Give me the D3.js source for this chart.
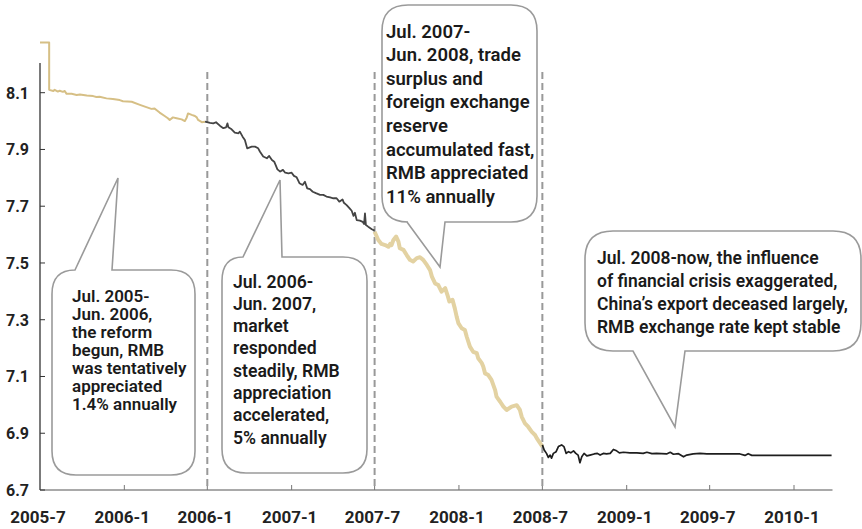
<!DOCTYPE html>
<html>
<head>
<meta charset="utf-8">
<script src="https://cdn.jsdelivr.net/npm/d3@7"></script>
<style>
  body { margin: 0; background: #fff; }
  svg { display: block; font-family: Roboto, "Noto Sans", sans-serif; }
</style>
</head>
<body>
<svg id="chart" width="862" height="529"></svg>
<script>
// RMB/USD rate, split by the four periods
const period1 = [
  ["2005-07-01", 8.2765], ["2005-07-21", 8.2765], ["2005-07-21", 8.110], ["2005-07-30", 8.106],
  ["2005-08-02", 8.110], ["2005-08-09", 8.104], ["2005-08-13", 8.107], ["2005-08-20", 8.103],
  ["2005-08-24", 8.106], ["2005-08-28", 8.096], ["2005-09-08", 8.096], ["2005-09-19", 8.092],
  ["2005-09-26", 8.094], ["2005-10-11", 8.090], ["2005-10-25", 8.088], ["2005-11-01", 8.085],
  ["2005-11-08", 8.086], ["2005-11-23", 8.080], ["2005-12-07", 8.078], ["2005-12-22", 8.074],
  ["2005-12-29", 8.070], ["2006-01-17", 8.068], ["2006-02-04", 8.057], ["2006-02-18", 8.049],
  ["2006-03-01", 8.043], ["2006-03-08", 8.044], ["2006-03-12", 8.039], ["2006-03-19", 8.030],
  ["2006-03-30", 8.018], ["2006-04-06", 8.010], ["2006-04-10", 8.004], ["2006-04-17", 8.013],
  ["2006-04-25", 8.010], ["2006-05-06", 8.006], ["2006-05-13", 8.000], ["2006-05-17", 8.012],
  ["2006-05-20", 8.027], ["2006-05-28", 8.022], ["2006-06-04", 8.018], ["2006-06-08", 8.013],
  ["2006-06-11", 8.004], ["2006-06-19", 7.996], ["2006-06-26", 7.998]
];
const period2 = [
  ["2006-06-26", 7.998], ["2006-07-07", 7.994], ["2006-07-14", 7.992], ["2006-07-20", 7.996],
  ["2006-07-29", 7.983], ["2006-08-05", 7.975], ["2006-08-11", 7.978], ["2006-08-14", 7.992],
  ["2006-08-16", 7.978], ["2006-08-23", 7.971], ["2006-08-30", 7.959], ["2006-09-07", 7.957],
  ["2006-09-10", 7.963], ["2006-09-16", 7.945], ["2006-09-21", 7.933], ["2006-09-26", 7.904],
  ["2006-10-06", 7.910], ["2006-10-13", 7.910], ["2006-10-20", 7.904], ["2006-10-24", 7.892],
  ["2006-10-31", 7.875], ["2006-11-08", 7.869], ["2006-11-13", 7.877], ["2006-11-19", 7.863],
  ["2006-11-24", 7.857], ["2006-12-01", 7.830], ["2006-12-07", 7.822], ["2006-12-13", 7.828],
  ["2006-12-18", 7.818], ["2006-12-25", 7.816], ["2007-01-01", 7.818], ["2007-01-06", 7.807],
  ["2007-01-12", 7.802], ["2007-01-18", 7.781], ["2007-01-25", 7.775], ["2007-01-30", 7.786],
  ["2007-02-04", 7.763], ["2007-02-10", 7.760], ["2007-02-16", 7.751], ["2007-02-23", 7.746],
  ["2007-03-04", 7.740], ["2007-03-11", 7.740], ["2007-03-18", 7.734], ["2007-03-26", 7.731],
  ["2007-04-02", 7.728], ["2007-04-09", 7.728], ["2007-04-15", 7.716], ["2007-04-22", 7.724],
  ["2007-04-25", 7.712], ["2007-05-01", 7.704], ["2007-05-07", 7.693], ["2007-05-12", 7.684],
  ["2007-05-16", 7.666], ["2007-05-19", 7.677], ["2007-05-23", 7.651], ["2007-05-30", 7.649],
  ["2007-06-05", 7.645], ["2007-06-08", 7.637], ["2007-06-10", 7.675], ["2007-06-12", 7.634],
  ["2007-06-17", 7.628], ["2007-06-25", 7.619], ["2007-07-01", 7.614]
];
const period3 = [
  ["2007-07-01", 7.610], ["2007-07-09", 7.581], ["2007-07-16", 7.567], ["2007-07-24", 7.563],
  ["2007-07-31", 7.557], ["2007-08-04", 7.567], ["2007-08-07", 7.563], ["2007-08-11", 7.581],
  ["2007-08-17", 7.593], ["2007-08-22", 7.575], ["2007-08-25", 7.552], ["2007-09-02", 7.546],
  ["2007-09-09", 7.528], ["2007-09-16", 7.511], ["2007-09-23", 7.505], ["2007-10-01", 7.517],
  ["2007-10-08", 7.520], ["2007-10-15", 7.511], ["2007-10-23", 7.493], ["2007-10-30", 7.475],
  ["2007-11-03", 7.452], ["2007-11-10", 7.428], ["2007-11-17", 7.422], ["2007-11-24", 7.399],
  ["2007-12-02", 7.411], ["2007-12-07", 7.387], ["2007-12-11", 7.364], ["2007-12-18", 7.370],
  ["2007-12-23", 7.340], ["2007-12-27", 7.311], ["2007-12-31", 7.287], ["2008-01-07", 7.270],
  ["2008-01-14", 7.264], ["2008-01-18", 7.240], ["2008-01-25", 7.205], ["2008-02-01", 7.187],
  ["2008-02-09", 7.182], ["2008-02-12", 7.164], ["2008-02-20", 7.147], ["2008-02-23", 7.135],
  ["2008-02-27", 7.111], ["2008-03-05", 7.105], ["2008-03-12", 7.088], ["2008-03-20", 7.052],
  ["2008-03-23", 7.029], ["2008-03-31", 7.011], ["2008-04-07", 6.994], ["2008-04-14", 6.982],
  ["2008-04-25", 6.994], ["2008-05-06", 6.999], ["2008-05-13", 6.982], ["2008-05-17", 6.958],
  ["2008-05-24", 6.935], ["2008-05-31", 6.923], ["2008-06-08", 6.905], ["2008-06-15", 6.894],
  ["2008-06-19", 6.882], ["2008-06-26", 6.865], ["2008-07-01", 6.853]
];
const period4 = [
  ["2008-07-01", 6.859], ["2008-07-05", 6.841], ["2008-07-10", 6.829], ["2008-07-14", 6.815],
  ["2008-07-18", 6.823], ["2008-07-21", 6.812], ["2008-07-25", 6.829], ["2008-07-31", 6.835],
  ["2008-08-05", 6.853], ["2008-08-12", 6.859], ["2008-08-17", 6.853], ["2008-08-22", 6.829],
  ["2008-08-27", 6.835], ["2008-09-01", 6.831], ["2008-09-07", 6.838], ["2008-09-12", 6.829],
  ["2008-09-17", 6.823], ["2008-09-21", 6.796], ["2008-09-25", 6.817], ["2008-09-30", 6.829],
  ["2008-10-06", 6.820], ["2008-10-13", 6.823], ["2008-10-22", 6.827], ["2008-10-29", 6.829],
  ["2008-11-04", 6.823], ["2008-11-11", 6.829], ["2008-11-18", 6.827], ["2008-11-26", 6.829],
  ["2008-12-03", 6.843], ["2008-12-10", 6.838], ["2008-12-16", 6.831], ["2008-12-25", 6.833],
  ["2009-01-08", 6.831], ["2009-01-23", 6.831], ["2009-02-06", 6.829], ["2009-02-14", 6.833],
  ["2009-02-25", 6.828], ["2009-03-07", 6.829], ["2009-03-29", 6.827], ["2009-04-06", 6.833],
  ["2009-04-13", 6.826], ["2009-04-24", 6.828], ["2009-05-05", 6.817], ["2009-05-12", 6.823],
  ["2009-05-26", 6.827], ["2009-06-10", 6.829], ["2009-06-25", 6.827], ["2009-07-24", 6.827],
  ["2009-09-05", 6.827], ["2009-09-16", 6.822], ["2009-09-23", 6.828], ["2009-10-01", 6.822],
  ["2009-10-12", 6.822], ["2010-03-24", 6.822]
];

const tickDates = ["2005-07-01", "2006-01-01", "2006-07-01", "2007-01-01", "2007-07-01",
  "2008-01-01", "2008-07-01", "2009-01-01", "2009-07-01", "2010-01-01"];
// third label is "2006-1" in the original too
const tickLabels = ["2005-7", "2006-1", "2006-1", "2007-1", "2007-7",
  "2008-1", "2008-7", "2009-1", "2009-7", "2010-1"];
const yTicks = [6.7, 6.9, 7.1, 7.3, 7.5, 7.7, 7.9, 8.1];
const splitDates = ["2006-07-01", "2007-07-01", "2008-07-01"];

const notes = [
  ["Jul. 2005-", "Jun. 2006,", "the reform", "begun, RMB", "was tentatively", "appreciated", "1.4% annually"],
  ["Jul. 2006-", "Jun. 2007,", "market", "responded", "steadily, RMB", "appreciation", "accelerated,", "5% annually"],
  ["Jul. 2007-", "Jun. 2008, trade", "surplus and", "foreign exchange", "reserve", "accumulated fast,", "RMB appreciated", "11% annually"],
  ["Jul. 2008-now, the influence", "of financial crisis exaggerated,", "China\u2019s export deceased largely,", "RMB exchange rate kept stable"]
];

const parse = d3.timeParse("%Y-%m-%d");
const svg = d3.select("#chart");

const x = d3.scaleTime()
  .domain([parse("2005-07-01"), parse("2010-01-01")])
  .range([40, 794]);
const xEnd = parse("2010-03-26");
const y = d3.scaleLinear().domain([6.7, 8.1]).range([490, 92.7]);

// axes
svg.append("line")
  .attr("x1", 40).attr("x2", 40).attr("y1", 63).attr("y2", y(6.7))
  .attr("stroke", "#222").attr("stroke-width", 1.2);
svg.append("line")
  .attr("x1", 40).attr("x2", x(xEnd)).attr("y1", y(6.7)).attr("y2", y(6.7))
  .attr("stroke", "#555").attr("stroke-width", 1.2);

svg.selectAll(".ytick").data(yTicks).join("line")
  .attr("x1", 40).attr("x2", 45)
  .attr("y1", d => y(d)).attr("y2", d => y(d))
  .attr("stroke", "#333");
svg.selectAll(".ylab").data(yTicks).join("text")
  .attr("x", 29).attr("y", d => y(d) + 6)
  .attr("text-anchor", "end")
  .attr("font-size", 16).attr("font-weight", 700).attr("fill", "#222")
  .text(d => d3.format(".1f")(d));

svg.selectAll(".xtick").data(tickDates.slice(1)).join("line")
  .attr("x1", d => x(parse(d))).attr("x2", d => x(parse(d)))
  .attr("y1", y(6.7) - 5).attr("y2", y(6.7))
  .attr("stroke", "#777");
svg.selectAll(".xlab").data(tickDates).join("text")
  .attr("x", d => x(parse(d)) - 2).attr("y", 523)
  .attr("text-anchor", "middle")
  .attr("font-size", 17).attr("font-weight", 700).attr("fill", "#222")
  .text((d, i) => tickLabels[i]);

// dashed period separators
svg.selectAll(".split").data(splitDates).join("line")
  .attr("x1", d => x(parse(d))).attr("x2", d => x(parse(d)))
  .attr("y1", 72).attr("y2", y(6.7))
  .attr("stroke", "#999").attr("stroke-width", 2)
  .attr("stroke-dasharray", "7,4");

// the rate line, one path per period
const line = d3.line()
  .x(d => x(parse(d[0])))
  .y(d => y(d[1]));
const styles = [
  { data: period1, color: "#d6bf85", width: 2 },
  { data: period2, color: "#444", width: 1.8 },
  { data: period3, color: "#e3d2a2", width: 4 },
  { data: period4, color: "#1e1e1e", width: 1.7 }
];
styles.forEach(s => {
  svg.append("path")
    .attr("d", line(s.data))
    .attr("fill", "none")
    .attr("stroke", s.color)
    .attr("stroke-width", s.width)
    .attr("stroke-linejoin", "round");
});

// speech bubbles
function bubble(b) {
  const r = b.r, l = b.x0, rt = b.x1, t = b.y0, bt = b.y1;
  let p = "";
  if (b.tailTop) {
    p += `M${b.t0},${t} L${b.tip[0]},${b.tip[1]} L${b.t1},${t}`;
    p += ` L${rt - r},${t} Q${rt},${t} ${rt},${t + r} L${rt},${bt - r} Q${rt},${bt} ${rt - r},${bt}`;
    p += ` L${l + r},${bt} Q${l},${bt} ${l},${bt - r} L${l},${t + r} Q${l},${t} ${b.t0},${t} Z`;
  } else {
    p += `M${l + r},${t} L${rt - r},${t} Q${rt},${t} ${rt},${t + r} L${rt},${bt - r} Q${rt},${bt} ${rt - r},${bt}`;
    p += ` L${b.t1},${bt} L${b.tip[0]},${b.tip[1]} L${b.t0},${bt}`;
    p += ` L${l + r},${bt} Q${l},${bt} ${l},${bt - r} L${l},${t + r} Q${l},${t} ${l + r},${t} Z`;
  }
  return p;
}

const boxes = [
  { x0: 52, x1: 195, y0: 270, y1: 475, r: 24, tailTop: true, t0: 75, t1: 112, tip: [118, 178],
    tx: 72, ty: 301.5, lh: 18.1, fs: 17 },
  { x0: 222, x1: 367, y0: 257, y1: 473, r: 24, tailTop: true, t0: 243, t1: 282, tip: [280, 180],
    tx: 233, ty: 287.5, lh: 22.3, fs: 17.6 },
  { x0: 382, x1: 537, y0: 5, y1: 222, r: 26, tailTop: false, t0: 407, t1: 445, tip: [440, 267],
    tx: 386, ty: 37.5, lh: 23.6, fs: 18.5 },
  { x0: 585, x1: 861, y0: 231, y1: 351, r: 28, tailTop: false, t0: 633, t1: 685, tip: [675, 427],
    tx: 597, ty: 263.5, lh: 23.3, fs: 17.5 }
];

boxes.forEach((b, i) => {
  svg.append("path")
    .attr("d", bubble(b))
    .attr("fill", "#fff")
    .attr("stroke", "#9a9a9a")
    .attr("stroke-width", 1.6);
  const t = svg.append("text")
    .attr("font-size", b.fs).attr("font-weight", 600).attr("fill", "#1a1a1a");
  notes[i].forEach((s, j) => {
    t.append("tspan").attr("x", b.tx).attr("y", b.ty + j * b.lh).text(s);
  });
});
</script>
</body>
</html>
